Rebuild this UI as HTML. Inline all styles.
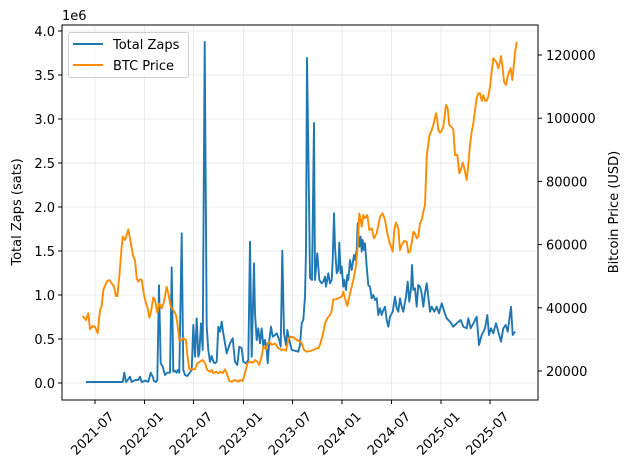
<!DOCTYPE html>
<html><head><meta charset="utf-8"><style>
html,body{margin:0;padding:0;background:#fff;}
svg{display:block;font-family:"DejaVu Sans","Liberation Sans",sans-serif;}
</style></head><body>
<svg id="s" width="630" height="470" viewBox="0 0 630 470" xmlns="http://www.w3.org/2000/svg">
<rect width="630" height="470" fill="#fff"/>
<g id="grid" stroke="#e6e6e6" stroke-width="0.8"></g>
<g id="lines" fill="none" stroke-width="1.9" stroke-linejoin="round"></g>
<rect x="62" y="25" width="476" height="375" fill="none" stroke="#000" stroke-width="1"/>
<g id="ticks" stroke="#000" stroke-width="1"></g>
<g id="labels" font-size="13" fill="#000"></g>
<text x="62" y="20" font-size="13">1e6</text>
<text transform="translate(21,212) rotate(-90)" text-anchor="middle" font-size="13">Total Zaps (sats)</text>
<text transform="translate(618,212) rotate(-90)" text-anchor="middle" font-size="13">Bitcoin Price (USD)</text>
<rect x="68.5" y="32.5" width="120" height="45" rx="2" fill="#fff" fill-opacity="0.8" stroke="#d0d0d0" stroke-width="1"/>
<line x1="73" y1="44" x2="103" y2="44" stroke="#1f77b4" stroke-width="2"/>
<line x1="73" y1="65" x2="103" y2="65" stroke="#ff8c00" stroke-width="2"/>
<text x="113" y="49" font-size="13">Total Zaps</text>
<text x="113" y="70" font-size="13">BTC Price</text>
</svg>
<script>
var NS="http://www.w3.org/2000/svg";
function el(p,t,a,txt){var e=document.createElementNS(NS,t);for(var k in a)e.setAttribute(k,a[k]);if(txt!==undefined)e.textContent=txt;p.appendChild(e);return e;}
function Z(ox,oy,arr,lo,hi){var r=[];for(var i=0;i<arr.length;i+=2){var zx=arr[i];if(lo!==undefined&&zx<lo)continue;if(hi!==undefined&&zx>hi)continue;r.push([ox+zx/3,oy+arr[i+1]/3]);}return r;}
var grid=document.getElementById('grid'),ticks=document.getElementById('ticks'),labels=document.getElementById('labels'),lines=document.getElementById('lines');
var xt=[[95,'2021-07'],[144.5,'2022-01'],[193.5,'2022-07'],[243.5,'2023-01'],[292.5,'2023-07'],[342,'2024-01'],[391.5,'2024-07'],[441,'2025-01'],[490,'2025-07']];
xt.forEach(function(t){el(grid,'line',{x1:t[0],y1:25,x2:t[0],y2:400});el(ticks,'line',{x1:t[0],y1:400,x2:t[0],y2:404});
var cx=t[0]-2,cy=434;
el(labels,'text',{x:cx,y:cy,'text-anchor':'middle','dominant-baseline':'central',transform:'rotate(-45 '+cx+' '+cy+')'},t[1]);});
for(var i=0;i<=8;i++){var y=383-i*44;el(grid,'line',{x1:62,y1:y,x2:538,y2:y});el(ticks,'line',{x1:58,y1:y,x2:62,y2:y});
el(labels,'text',{x:55,y:y+5,'text-anchor':'end'},(i*0.5).toFixed(1));}
for(var v=20000;v<=120000;v+=20000){var y=55+(120000-v)*63.2/20000;el(ticks,'line',{x1:538,y1:y,x2:542,y2:y});el(labels,'text',{x:546,y:y+5},String(v));}
var z3b=[18,606,128,606,133,578,138,606,143,600,150,590,155,606,165,600,175,600,180,590,185,606,195,602,205,605,212,578,218,590,222,603,228,606,232,600,237,316,242,550,248,560,255,585,262,578,270,578,275,262,280,575,285,572,290,578,293,570,298,578,305,160,310,570,315,585,322,588,328,580,335,570,340,435,345,530,350,415,355,530,358,520,363,430,368,510];
var z3b2=[380,440,385,510,390,545,395,528,400,545,405,550,410,545,415,440,420,455,425,425,430,460,440,520,450,490,458,475,465,545,472,555,478,500];
var z4b=[0,478,8,478,15,545,20,555,25,500,35,505,40,545,48,550,55,540,60,185,65,530,72,250,75,400,80,480,85,445,90,490,95,445,100,498,105,480,110,510,113,550,118,480,123,440,128,470,135,465,140,460,148,480,152,500,157,212,162,460,168,495,172,450,178,480,185,510,195,512,205,515,210,495,215,430,220,420,225,350];
var z4b2=[255,300,262,220,268,300,275,310,280,305,285,290,288,320,295,280,300,310,305,300,308,240,312,100,315,200,320,280,325,270,328,188,332,280,335,260,340,320,343,300,348,330,352,285,355,300,360,240,365,270,368,250,372,225,375,240,380,210,383,130,388,200,392,170,395,215,398,180,402,210,405,190,410,260,415,315,420,320,425,355,430,345,435,360,440,355,445,405,450,385,455,405,460,390,465,380,470,420,475,440];
var z5b=[30,860,38,845,45,800,50,835,55,845,60,805,65,830,70,845,78,800,83,755,88,815,93,775,96,705,100,780,105,775,110,830,115,765,120,770,125,790,130,830,135,790,140,760,145,800,150,845];
var z2b=[345,935,350,920,358,935,365,920,372,940,380,910,388,935,395,955,405,965,415,980,425,970,437,960,445,980,455,985,460,955,467,985,478,965,485,950,492,1035,500,1005,510,985,517,945,522,1005,528,985,535,1000,543,970,550,995,558,1025,565,985,572,975,578,995,588,920,593,1005,600,995];
var blue=[].concat(Z(80,180,z3b),[[204.7,42]],Z(80,180,z3b2),Z(230,180,z4b,30),[[306,250],[307,58],[309,200],[310,278],[312,280],[314,123]],Z(230,180,z4b2),Z(380,30,z5b),Z(315,0,z2b));
var z3o=[8,408,18,420,25,400,30,448,38,438,45,440,53,460,60,390,65,378,70,330,80,305,88,300,95,310,102,320,108,348,112,348,118,290,125,200,128,170,135,180,140,165,145,148,150,175,155,205,160,230,165,240,170,295,175,305,180,298,185,300,192,345,198,370,203,385,208,413,213,395,220,352,225,360,232,398,238,370,245,385,252,365,260,320,265,340,272,380,280,390,288,405,292,430,298,480,305,480,310,475,318,480,322,525,328,568,335,568,345,568,352,550,360,545,368,540,375,550,382,570,390,575,395,570,400,580,408,575,415,580,422,575,428,580,435,568,440,580,448,603,455,605,465,600,475,605];
var z4o=[30,600,38,603,45,580,52,550,60,545,68,548,75,540,82,545,88,555,95,528,100,500,108,508,113,490,118,485,125,495,135,490,145,505,155,510,160,508,168,512,175,478,182,470,190,472,200,480,210,485,215,490,222,510,230,515,240,513,250,510,258,505,265,505,270,495,278,465,285,430,292,415,300,405,305,392,310,358,318,358,325,355,335,350,340,335,345,355,352,378,358,350,365,320,372,290,378,255,383,200,388,100,392,120,395,140,400,105,405,115,412,105,418,150,425,145,432,175,440,160];
var z5o=[0,560,8,550,15,570,22,610,28,635,38,665,43,600,48,578,55,595,60,660,65,645,72,633,80,635,85,668,90,665,95,640,100,605,105,610,110,625,115,620,120,580,125,570,130,545,135,525,140,380,148,318,155,300,160,285,168,250,172,270,175,300,180,308,185,302,190,290,195,250,198,225,203,235,208,285,215,292,220,298,225,375,232,375,238,430,243,418,248,398,252,410,256,430,260,450,265,405,270,345,275,305,280,280,285,240,290,205,295,190,300,190,305,212,310,196,315,212,320,212,325,200,330,170,335,125,340,85,345,90,350,98,355,115,360,95,363,78,368,115,372,155,378,165,383,140,388,125,392,115,397,150,401,110,405,70,410,35];
var orange=[].concat(Z(80,180,z3o),Z(230,180,z4o),Z(380,30,z5o));
function pts(a){return a.map(function(p){return p[0].toFixed(1)+','+p[1].toFixed(1);}).join(' ');}
el(lines,'polyline',{points:pts(blue),stroke:'#1f77b4'});
el(lines,'polyline',{points:pts(orange),stroke:'#ff8c00'});
</script>
</body></html>
